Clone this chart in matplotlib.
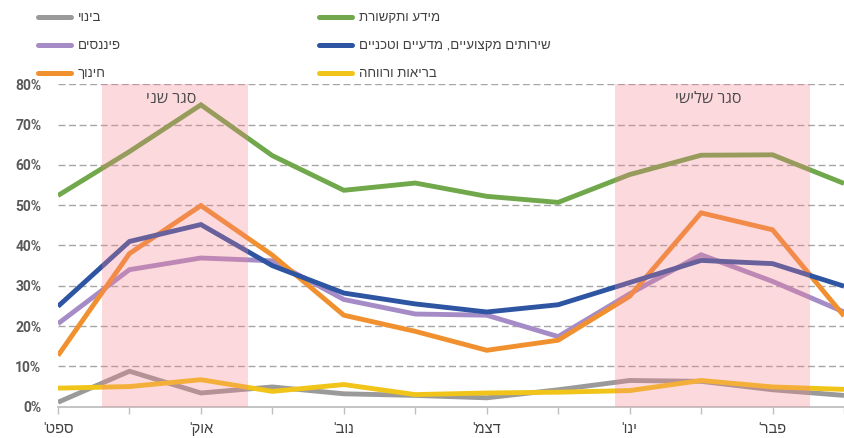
import numpy as np
import matplotlib
matplotlib.use("Agg")
import matplotlib.pyplot as plt

plt.rcParams['font.family'] = ['Roboto', 'Liberation Sans', 'DejaVu Sans']

# half-month points, sept -> feb (last one runs off the right edge)
months = ["ספט'", "אוק'", "נוב'", "דצמ'", "ינו'", "פבר'"]

info_comm = [52.4, 63.3, 74.9, 62.3, 53.7, 55.5, 52.2, 50.7, 57.6, 62.4, 62.5, 55.4]
prof_services = [24.9, 41.0, 45.2, 35.0, 28.2, 25.5, 23.5, 25.3, 30.8, 36.3, 35.5, 29.9]
finance = [20.6, 34.0, 36.9, 36.2, 26.6, 23.0, 22.7, 17.4, 28.0, 37.7, 31.1, 23.5]
education = [12.7, 38.0, 49.9, 37.6, 22.7, 18.7, 14.0, 16.5, 27.4, 48.1, 43.9, 22.5]
construction = [1.1, 8.8, 3.4, 4.9, 3.2, 2.8, 2.2, 4.2, 6.5, 6.3, 4.2, 2.8]
health = [4.6, 5.0, 6.7, 3.8, 5.5, 3.0, 3.4, 3.6, 4.0, 6.5, 4.9, 4.3]

# lockdown periods, in point index units
lockdowns = [(0.61, 2.66, "סגר שני"), (7.79, 10.52, "סגר שלישי")]

left_col = [
    ("בינוי", construction, "#9a9a9a"),
    ("פיננסים", finance, "#a68cc7"),
    ("חינוך", education, "#f0902f"),
]
right_col = [
    ("מידע ותקשורת", info_comm, "#70a84b"),
    ("שירותים מקצועיים, מדעיים וטכניים", prof_services, "#2e55a2"),
    ("בריאות ורווחה", health, "#f1c419"),
]

HEB_LEGEND = ['Liberation Sans Narrow', 'Liberation Sans', 'DejaVu Sans']
HEB_LABEL = ['Open Sans', 'Liberation Sans', 'DejaVu Sans']


def vis(s):
    ## no bidi in matplotlib, so flip the hebrew by hand
    return s[::-1]


fig = plt.figure(figsize=(8.44, 4.38), dpi=100)
ax = fig.add_axes([58 / 844, (438 - 406.7) / 438, (844 - 58) / 844, (406.7 - 84.3) / 438])

x = np.arange(len(info_comm))
left_handles, right_handles = [], []
for group, store in [(left_col, left_handles), (right_col, right_handles)]:
    for name, vals, col in group:
        h, = ax.plot(x, vals, color=col, lw=3.5, solid_joinstyle='miter', solid_capstyle='butt',
                     label=vis(name), zorder=3)
        store.append(h)

for x0, x1, txt in lockdowns:
    ax.axvspan(x0, x1, color=(248 / 255, 127 / 255, 138 / 255), alpha=0.29, lw=0, zorder=4)
    ax.text((x0 + x1) / 2 - 0.05, 76.3, vis(txt), ha='center', va='center', fontsize=11.5,
            family=HEB_LABEL, color='#4a4a4a', zorder=5)

ax.set_xlim(0, 10.8)
ax.set_ylim(0, 80)
ax.set_yticks(np.arange(0, 81, 10))
ax.set_yticklabels([f"{v}%" for v in range(0, 81, 10)])
ax.set_xticks(x)
ax.set_xticklabels([vis(months[i // 2]) if i % 2 == 0 else '' for i in x])

for v in range(10, 81, 10):
    ax.axhline(v, color='#a6a6a6', lw=1.0, ls=(0, (5, 2.6)), zorder=1)

for s in ['top', 'right', 'left']:
    ax.spines[s].set_visible(False)
ax.spines['bottom'].set_color('#bfbfbf')
ax.spines['bottom'].set_linewidth(1.3)

ax.tick_params(axis='y', length=0, pad=12, labelsize=10, labelcolor='#595959')
ax.tick_params(axis='x', length=5, width=1.0, color='#bfbfbf', pad=6, labelsize=10.5, labelcolor='#404040')
for lab in ax.get_yticklabels():
    lab.set_fontweight('bold')

legends = []
for handles, xpix in [(left_handles, 38), (right_handles, 319)]:
    leg = ax.legend(handles=handles, loc='upper left', bbox_to_anchor=(xpix / 844, 1 - 12 / 438),
                    bbox_transform=fig.transFigure, frameon=False,
                    prop={'family': HEB_LEGEND, 'size': 9.5}, handlelength=2.5, handletextpad=0.5,
                    labelspacing=1.2, borderaxespad=0, borderpad=0)
    for t in leg.get_texts():
        t.set_color('#404040')
    for lh in leg.get_lines():
        lh.set_linewidth(3.6)
        lh.set_solid_capstyle('round')
    legends.append(leg)
ax.add_artist(legends[0])

fig.savefig("out.png", dpi=100)
